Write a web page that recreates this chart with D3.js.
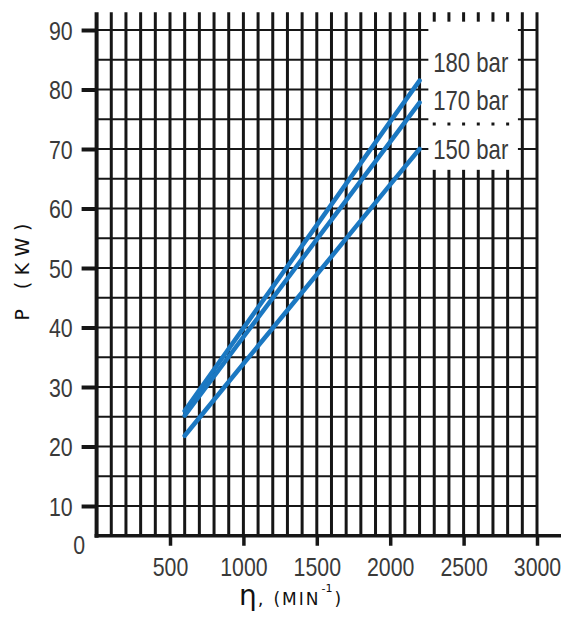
<!DOCTYPE html>
<html>
<head>
<meta charset="utf-8">
<script src="https://cdn.jsdelivr.net/npm/d3@7"></script>
<style>
  html, body { margin: 0; padding: 0; background: #fff; }
  svg { display: block; }
  .tick text, .lbl { font-family: "Liberation Sans", Arial, sans-serif; font-size: 26px; fill: #3a3a3a; }
</style>
</head>
<body>
<script>
// rpm (min^-1) and power (kW)
var rpm = [600, 1000, 1500, 2000, 2200]
var p180 = [26.0, 39.9, 57.2, 74.6, 81.5]
var p170 = [25.2, 38.4, 54.8, 71.2, 77.8]
var p150 = [21.8, 33.9, 48.9, 64.0, 70.0]
var seriesNames = ["180 bar", "170 bar", "150 bar"]

var xTicks = [500, 1000, 1500, 2000, 2500, 3000]
var yTicks = [10, 20, 30, 40, 50, 60, 70, 80, 90]

var width = 576
var height = 617
var gridColor = "#161616"
var lineColor = "#1b78c2"
var narrow = 0.82   // the original face is a condensed one

var x = d3.scaleLinear().domain([0, 3000]).range([96.6, 537])
var y = d3.scaleLinear().domain([10, 90]).range([506, 30])
var yBottom = 5, yTop = 93

var svg = d3.select("body")
    .append("svg")
    .attr("width", width)
    .attr("height", height)

// vertical grid, every 100 rpm
svg.append("g")
    .selectAll("line")
    .data(d3.range(100, 3001, 100))
    .enter()
    .append("line")
    .attr("x1", d => x(d)).attr("x2", d => x(d))
    .attr("y1", y(yTop)).attr("y2", y(yBottom))
    .attr("stroke", gridColor)
    .attr("stroke-width", 3)

// horizontal grid, every 5 kW
svg.append("g")
    .selectAll("line")
    .data(d3.range(10, 91, 5))
    .enter()
    .append("line")
    .attr("x1", x(0)).attr("x2", x(3000))
    .attr("y1", d => y(d)).attr("y2", d => y(d))
    .attr("stroke", gridColor)
    .attr("stroke-width", 2)

// white patch behind the legend labels
svg.append("rect")
    .attr("x", x(2260)).attr("y", y(91.4))
    .attr("width", x(2870) - x(2260))
    .attr("height", y(66.5) - y(91.4))
    .attr("fill", "#fff")

// leftover dots of the 75 kW line
svg.append("g")
    .selectAll("rect")
    .data(d3.range(2300, 2801, 100))
    .enter()
    .append("rect")
    .attr("x", d => x(d) - 1.5)
    .attr("y", y(74.2) - 1.5)
    .attr("width", 3).attr("height", 3)
    .attr("fill", gridColor)

// axis lines
svg.append("line")
    .attr("x1", x(0)).attr("x2", x(0))
    .attr("y1", y(yTop)).attr("y2", y(yBottom) + 2)
    .attr("stroke", gridColor).attr("stroke-width", 4)
svg.append("line")
    .attr("x1", x(0) - 2).attr("x2", 561)
    .attr("y1", y(yBottom)).attr("y2", y(yBottom))
    .attr("stroke", gridColor).attr("stroke-width", 3.5)

// y axis ticks
var yAxis = svg.append("g")
    .attr("transform", "translate(" + x(0) + ",0)")
    .call(d3.axisLeft(y).tickValues(yTicks).tickSize(15).tickPadding(9))
yAxis.select(".domain").remove()
yAxis.selectAll(".tick line").attr("stroke", gridColor).attr("stroke-width", 4)
yAxis.selectAll(".tick text")
    .attr("dy", "0.36em")
    .attr("x", -24 / narrow)
    .attr("transform", "scale(" + narrow + ",1)")

svg.append("text")
    .attr("class", "lbl")
    .attr("transform", "translate(85,554) scale(" + narrow + ",1)")
    .attr("text-anchor", "end")
    .text("0")

// x axis ticks
var xAxis = svg.append("g")
    .attr("transform", "translate(0," + y(yBottom) + ")")
    .call(d3.axisBottom(x).tickValues(xTicks).tickFormat(d3.format("d")).tickSize(10).tickPadding(12))
xAxis.select(".domain").remove()
xAxis.selectAll(".tick line").attr("stroke", gridColor).attr("stroke-width", 3.5)
xAxis.selectAll(".tick text").attr("transform", "scale(" + narrow + ",1)")

// series
var series = [p180, p170, p150]
var line = d3.line()
    .x((d, i) => x(rpm[i]))
    .y(d => y(d))

svg.append("g")
    .selectAll("path")
    .data(series)
    .enter()
    .append("path")
    .attr("d", line)
    .attr("fill", "none")
    .attr("stroke", lineColor)
    .attr("stroke-width", 4.5)
    .attr("stroke-linecap", "round")

var labelNudge = [-18, -2, 0]
svg.append("g")
    .selectAll("text")
    .data(series)
    .enter()
    .append("text")
    .attr("class", "lbl")
    .attr("transform", (d, i) => "translate(" + (x(2300) - 1) + "," + (y(d[d.length - 1]) + labelNudge[i]) + ") scale(" + narrow + ",1)")
    .attr("dy", "0.36em")
    .style("font-size", "27px")
    .text((d, i) => seriesNames[i])

// axis titles
svg.append("text")
    .attr("transform", "translate(29,272) rotate(-90)")
    .attr("text-anchor", "middle")
    .attr("textLength", 97)
    .attr("lengthAdjust", "spacing")
    .style("font-family", "'DejaVu Sans', sans-serif")
    .style("font-size", "19px")
    .attr("fill", "#111")
    .text("P (KW)")

var xt = svg.append("text")
    .attr("x", 239).attr("y", 605)
    .style("font-family", "'DejaVu Sans', sans-serif")
    .attr("fill", "#111")
xt.append("tspan").style("font-size", "28px").text("η")
xt.append("tspan").style("font-size", "18px").attr("dx", 1).text(",")
xt.append("tspan").style("font-size", "17px").attr("dx", 10).style("letter-spacing", "2px").text("(MIN")
xt.append("tspan").style("font-size", "11px").attr("dy", -13).attr("dx", 1).text("-1")
xt.append("tspan").style("font-size", "17px").attr("dy", 13).attr("dx", 2).text(")")
</script>
</body>
</html>
